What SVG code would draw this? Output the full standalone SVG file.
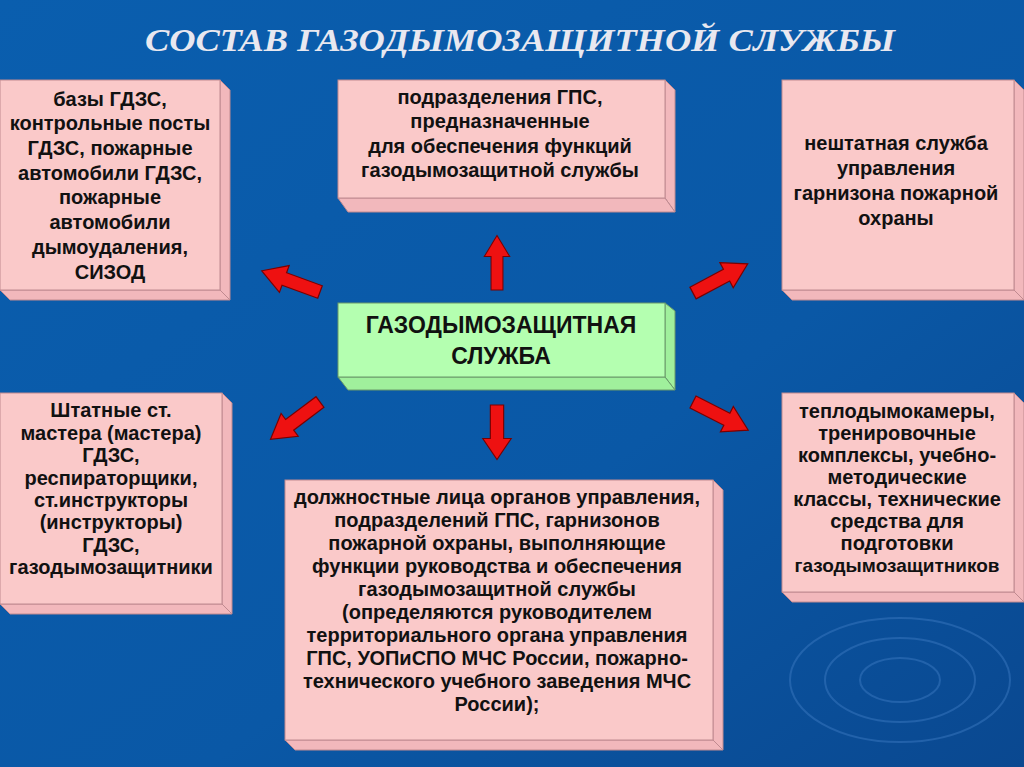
<svg xmlns="http://www.w3.org/2000/svg" width="1024" height="767" viewBox="0 0 1024 767">
<defs>
<linearGradient id="bg" x1="0" y1="0" x2="1" y2="1"><stop offset="0" stop-color="#0a5eae"/><stop offset="0.6" stop-color="#0a58a6"/><stop offset="1" stop-color="#0a4890"/></linearGradient>
<path id="arr" d="M0,-7 L38,-7 L38,-15 L62,0 L38,15 L38,7 L0,7 Z"/>
</defs>
<style>
.f{fill:#fac9c9;stroke:#c08a90;stroke-width:1}
.s{fill:#f2b8bc;stroke:#c08a90;stroke-width:1}
.g{fill:#b4ffb0;stroke:#6a9a6a;stroke-width:1}
.gs{fill:#a0f09c;stroke:#6a9a6a;stroke-width:1}
text{font-family:"Liberation Sans",Arial,sans-serif;font-weight:bold;font-size:20px;fill:#111;text-anchor:middle}
.a{fill:#ee1111;stroke:#7a0000;stroke-width:1.2}
</style>
<rect width="1024" height="767" fill="url(#bg)"/>
<g fill="none" stroke="#3a78c0" stroke-width="2" opacity="0.5"><ellipse cx="900" cy="680" rx="40" ry="22"/><ellipse cx="900" cy="680" rx="75" ry="42"/><ellipse cx="900" cy="680" rx="110" ry="62"/></g>
<text x="520" y="51" textLength="750" lengthAdjust="spacingAndGlyphs" style="font-family:'Liberation Serif',serif;font-style:italic;font-size:32px;fill:#e8e8f0">СОСТАВ ГАЗОДЫМОЗАЩИТНОЙ СЛУЖБЫ</text>

<g id="n1"><polygon class="s" points="220,80 230,90 230,300 220,290"/><polygon class="s" points="0,290 220,290 230,300 10,300"/><rect class="f" x="0" y="80" width="220" height="210"/>
<text><tspan x="110" y="106">базы ГДЗС,</tspan><tspan x="110" y="130">контрольные посты</tspan><tspan x="110" y="155">ГДЗС, пожарные</tspan><tspan x="110" y="180">автомобили ГДЗС,</tspan><tspan x="110" y="204">пожарные</tspan><tspan x="110" y="229">автомобили</tspan><tspan x="110" y="254">дымоудаления,</tspan><tspan x="110" y="279">СИЗОД</tspan></text></g>

<g id="n2"><polygon class="s" points="665,80 675,90 675,212 665,198"/><polygon class="s" points="338,198 665,198 675,212 348,212"/><rect class="f" x="338" y="80" width="327" height="118"/>
<text><tspan x="500" y="104">подразделения ГПС,</tspan><tspan x="500" y="128">предназначенные</tspan><tspan x="500" y="153">для обеспечения функций</tspan><tspan x="500" y="177">газодымозащитной службы</tspan></text></g>

<g id="n3"><polygon class="s" points="1014,80 1024,90 1024,300 1014,290"/><polygon class="s" points="782,290 1014,290 1024,300 792,300"/><rect class="f" x="782" y="80" width="232" height="210"/>
<text><tspan x="896" y="150">нештатная служба</tspan><tspan x="896" y="175">управления</tspan><tspan x="896" y="200">гарнизона пожарной</tspan><tspan x="896" y="225">охраны</tspan></text></g>

<g id="center"><polygon class="gs" points="665,303 675,311 675,390 665,377"/><polygon class="gs" points="338,377 665,377 675,390 348,390"/><rect class="g" x="338" y="303" width="327" height="74"/>
<text style="font-size:23px"><tspan x="501" y="333">ГАЗОДЫМОЗАЩИТНАЯ</tspan><tspan x="501" y="364">СЛУЖБА</tspan></text></g>

<g id="n4"><polygon class="s" points="222,393 232,403 232,614 222,604"/><polygon class="s" points="0,604 222,604 232,614 10,614"/><rect class="f" x="0" y="393" width="222" height="211"/>
<text><tspan x="111" y="417">Штатные ст.</tspan><tspan x="111" y="440">мастера (мастера)</tspan><tspan x="111" y="462">ГДЗС,</tspan><tspan x="111" y="485">респираторщики,</tspan><tspan x="111" y="507">ст.инструкторы</tspan><tspan x="111" y="529">(инструкторы)</tspan><tspan x="111" y="552">ГДЗС,</tspan><tspan x="111" y="574">газодымозащитники</tspan></text></g>

<g id="n5"><polygon class="s" points="713,480 723,490 723,750 713,740"/><polygon class="s" points="285,740 713,740 723,750 295,750"/><rect class="f" x="285" y="480" width="428" height="260"/>
<text><tspan x="497" y="504">должностные лица органов управления,</tspan><tspan x="497" y="527">подразделений ГПС, гарнизонов</tspan><tspan x="497" y="550">пожарной охраны, выполняющие</tspan><tspan x="497" y="573">функции руководства и обеспечения</tspan><tspan x="497" y="596">газодымозащитной службы</tspan><tspan x="497" y="619">(определяются руководителем</tspan><tspan x="497" y="642">территориального органа управления</tspan><tspan x="497" y="665">ГПС, УОПиСПО МЧС России, пожарно-</tspan><tspan x="497" y="688">технического учебного заведения МЧС</tspan><tspan x="497" y="711">России);</tspan></text></g>

<g id="n6"><polygon class="s" points="1014,393 1024,403 1024,602 1014,592"/><polygon class="s" points="782,592 1014,592 1024,602 792,602"/><rect class="f" x="782" y="393" width="232" height="199"/>
<text><tspan x="897" y="418">теплодымокамеры,</tspan><tspan x="897" y="440">тренировочные</tspan><tspan x="897" y="462">комплексы, учебно-</tspan><tspan x="897" y="484">методические</tspan><tspan x="897" y="506">классы, технические</tspan><tspan x="897" y="528">средства для</tspan><tspan x="897" y="550">подготовки</tspan><tspan x="897" y="572" style="font-size:19px">газодымозащитников</tspan></text></g>

<g id="connectors">
<use href="#arr" class="a" transform="translate(497,290) rotate(-90) scale(0.88,0.85)"/>
<use href="#arr" class="a" transform="translate(497,405) rotate(90) scale(0.88,0.95)"/>
<use href="#arr" class="a" transform="translate(320,292) rotate(-160) scale(1,0.95)"/>
<use href="#arr" class="a" transform="translate(320,402) rotate(143) scale(1,0.95)"/>
<use href="#arr" class="a" transform="translate(693,293) rotate(-28) scale(1,0.95)"/>
<use href="#arr" class="a" transform="translate(693,402) rotate(27) scale(1,0.95)"/>
</g>
</svg>
